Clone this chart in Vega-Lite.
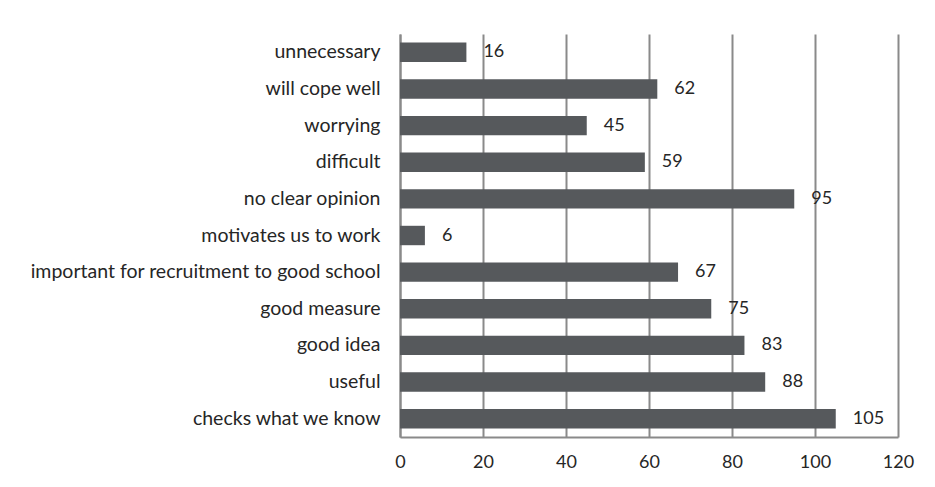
{
  "$schema": "https://vega.github.io/schema/vega-lite/v6.json",
  "autosize": {"type": "none"},
  "width": 498,
  "height": 403,
  "padding": {"left": 400, "top": 34, "right": 37, "bottom": 50},
  "background": "white",
  "config": {
    "view": {"stroke": null},
    "font": "Lato",
    "axis": {"labelFont": "Lato", "labelColor": "#262626"}
  },
  "data": {
    "values": [
      {"category": "unnecessary", "value": 16},
      {"category": "will cope well", "value": 62},
      {"category": "worrying", "value": 45},
      {"category": "difficult", "value": 59},
      {"category": "no clear opinion", "value": 95},
      {"category": "motivates us to work", "value": 6},
      {"category": "important for recruitment to good school", "value": 67},
      {"category": "good measure", "value": 75},
      {"category": "good idea", "value": 83},
      {"category": "useful", "value": 88},
      {"category": "checks what we know", "value": 105}
    ]
  },
  "encoding": {
    "y": {
      "field": "category", "type": "nominal", "sort": null, "title": null,
      "scale": {"paddingInner": 0.47, "paddingOuter": 0.235},
      "axis": {"ticks": false, "domainColor": "#8a8a8a", "domainWidth": 2, "labelPadding": 20, "labelLimit": 400, "labelFontSize": 19.5}
    },
    "x": {
      "field": "value", "type": "quantitative", "title": null,
      "scale": {"domain": [0, 120], "nice": false},
      "axis": {"values": [0, 20, 40, 60, 80, 100, 120], "ticks": false, "grid": true, "gridColor": "#8a8a8a", "gridWidth": 2, "domainColor": "#8a8a8a", "domainWidth": 2, "labelPadding": 16, "labelFlush": false, "labelFontSize": 18}
    }
  },
  "layer": [
    {"mark": {"type": "bar", "color": "#56595c"}},
    {"mark": {"type": "text", "align": "left", "baseline": "middle", "dx": 17, "fontSize": 18, "color": "#262626"},
     "encoding": {"text": {"field": "value", "type": "quantitative"}}}
  ]
}
